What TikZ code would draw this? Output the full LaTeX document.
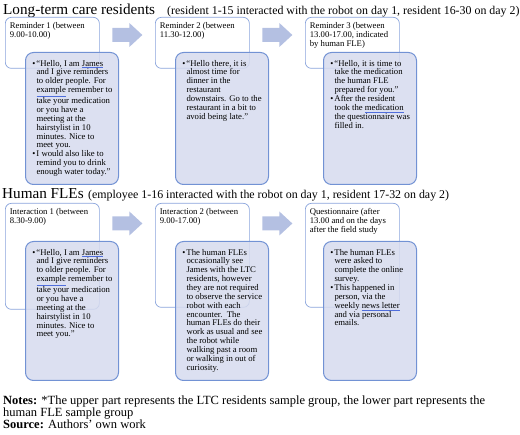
\documentclass[tikz,border=0pt]{standalone}
\usepackage{fontspec}
\setmainfont{Liberation Serif}
\usetikzlibrary{positioning,calc}

\definecolor{lavfill}{RGB}{214,219,238}
\definecolor{lavline}{RGB}{114,146,212}
\definecolor{slotline}{RGB}{138,164,220}
\definecolor{flowfill}{RGB}{180,192,226}
\definecolor{spellblue}{RGB}{80,110,220}

\newcommand{\boxfont}{\fontsize{8.7}{8.87}\selectfont}
\newcommand{\headfont}{\fontsize{15.2}{18}\selectfont}
\newcommand{\subfont}{\fontsize{11.9}{14}\selectfont}
\newcommand{\notefont}{\fontsize{12.5}{11.8}\selectfont}
\newcommand{\spell}[1]{{\color{spellblue}\underline{{\color{black}#1}}}}
\newcommand{\bul}{\leavevmode\llap{\textbullet\hspace{1pt}}}
\newcommand{\slottext}[2]{\parbox[c][#1][t]{85pt}{\boxfont\raggedright #2}}
\newcommand{\speechtext}[2]{\hspace*{11pt}\parbox[c][#1][t]{82pt}{\boxfont\raggedright #2}}

\tikzset{
  slot/.style={draw=slotline, line width=0.7pt, rounded corners=6pt, fill=white,
    anchor=north west, inner xsep=4.5pt, inner ysep=5.5pt},
  speech/.style={draw=lavline, line width=1pt, rounded corners=8pt, fill=lavfill,
    fill opacity=0.85, text opacity=1, anchor=north west, inner xsep=0pt, inner ysep=7.5pt},
  head/.style={font=\headfont, anchor=base west, inner sep=0pt},
  sub/.style={font=\subfont, anchor=base west, inner sep=0pt}
}

\begin{document}
\begin{tikzpicture}[x=1pt, y=-1pt]
\useasboundingbox (0,0) rectangle (520,435);
% one coordinate unit is one pixel of the 520 x 435 figure, y runs downwards
\node[head] (ltc) at (3,15) {Long-term care residents};
\node[sub] (ltcnote) at (167,15) {(resident 1-15 interacted with the robot on day 1, resident 16-30 on day 2)};
\node[head] (fle) at (2,199) {Human FLEs};
\node[sub] (flenote) at (88,199) {(employee 1-16 interacted with the robot on day 1, resident 17-32 on day 2)};

% upper row: the LTC residents
\node[slot] (rem1) at (5,17) {\slottext{40pt}{Reminder 1 (between\\9.00-10.00)}};
\node[slot] (rem2) at (155,17) {\slottext{40pt}{Reminder 2 (between\\11.30-12.00)}};
\node[slot] (rem3) at (305,17) {\slottext{40pt}{Reminder 3 (between\\13.00-17.00, indicated\\by human FLE)}};
\node[speech] (say1) at (25,52) {\speechtext{117pt}{\bul“Hello, I am \spell{James}\\and I give reminders\\to older people. For\\\spell{example} remember to\\take your medication\\or you have a\\meeting at the\\hairstylist in 10\\minutes. Nice to\\meet you.\\\bul I would also like to\\remind you to drink\\enough water today.”}};
\node[speech] (say2) at (175,52) {\speechtext{117pt}{\bul“Hello there, it is\\almost time for\\dinner in the\\restaurant\\downstairs. Go to the\\restaurant in a bit to\\avoid being late.”}};
\node[speech] (say3) at (323,52) {\speechtext{117pt}{\bul“Hello, it is time to\\take the medication\\the human FLE\\prepared for you.”\\\bul After the resident\\took the \spell{medication}\\the questionnaire was\\filled in.}};

% lower row: the human FLEs
\node[slot] (int1) at (5,203) {\slottext{95pt}{Interaction 1 (between\\8.30-9.00)}};
\node[slot] (int2) at (155,203) {\slottext{93pt}{Interaction 2 (between\\9.00-17.00)}};
\node[slot] (qst) at (305,203) {\slottext{93pt}{Questionnaire (after\\13.00 and on the days\\after the field study}};
\node[speech] (do1) at (25,241) {\speechtext{124pt}{\bul“Hello, I am \spell{James}\\and I give reminders\\to older people. For\\\spell{example} remember to\\take your medication\\or you have a\\meeting at the\\hairstylist in 10\\minutes. Nice to\\meet you.”}};
\node[speech] (do2) at (175,241) {\speechtext{124pt}{\bul The human FLEs\\occasionally see\\James with the LTC\\residents, however\\they are not required\\to observe the service\\robot with each\\encounter.\ \ The\\human FLEs do their\\work as usual and see\\the robot while\\walking past a room\\or walking in out of\\curiosity.}};
\node[speech] (do3) at (323,241) {\speechtext{124pt}{\bul The human FLEs\\were asked to\\complete the online\\survey.\\\bul This happened in\\person, via the\\weekly \spell{news letter}\\and via personal\\emails.}};

\foreach \a/\b/\dy in {rem1/rem2/18, rem2/rem3/18, int1/int2/20.5, int2/qst/20.5}{
  \coordinate (\a-\b) at ($(\a.north east)!.5!(\b.north west)+(0,\dy)$);
  \fill[flowfill] ($(\a-\b)+(-15,-7)$) -- ++(17,0) -- ++(0,-5) -- ++(13,12)
    -- ++(-13,12) -- ++(0,-5) -- ++(-17,0) -- cycle;}

\node[font=\notefont, anchor=north west, align=left, inner sep=0pt] (notes) at (3,396)
  {\textbf{Notes:} *The upper part represents the LTC residents sample group, the lower part represents the\\human FLE sample group\\\textbf{Source:} Authors’ own work};
\end{tikzpicture}
\end{document}
